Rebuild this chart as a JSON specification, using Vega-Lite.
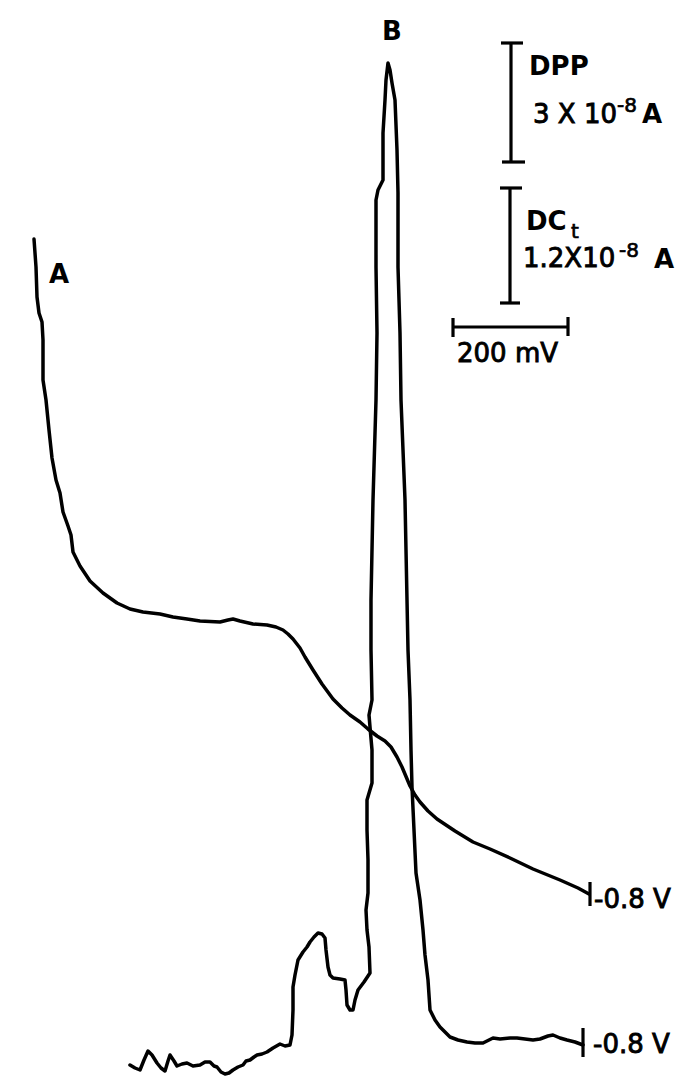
{
  "$schema": "https://vega.github.io/schema/vega-lite/v6.json",
  "width": 699,
  "height": 1086,
  "autosize": {"type": "fit", "contains": "padding"},
  "padding": 0,
  "background": "white",
  "config": {"view": {"stroke": null}},
  "datasets": {
    "curves": [
      {"curve":"A","x":34,"y":239},{"curve":"A","x":36,"y":267},{"curve":"A","x":37,"y":297},{"curve":"A","x":39,"y":313},{"curve":"A","x":42,"y":322},{"curve":"A","x":43,"y":340},{"curve":"A","x":43,"y":380},{"curve":"A","x":46,"y":400},{"curve":"A","x":49,"y":430},{"curve":"A","x":52,"y":458},{"curve":"A","x":56,"y":480},{"curve":"A","x":60,"y":493},{"curve":"A","x":63,"y":512},{"curve":"A","x":68,"y":526},{"curve":"A","x":71,"y":535},{"curve":"A","x":73,"y":552},{"curve":"A","x":80,"y":566},{"curve":"A","x":90,"y":581},{"curve":"A","x":103,"y":593},{"curve":"A","x":117,"y":603},{"curve":"A","x":130,"y":609},{"curve":"A","x":143,"y":612},{"curve":"A","x":160,"y":614},{"curve":"A","x":173,"y":617},{"curve":"A","x":187,"y":619},{"curve":"A","x":200,"y":621},{"curve":"A","x":220,"y":622},{"curve":"A","x":228,"y":620},{"curve":"A","x":233,"y":619},{"curve":"A","x":240,"y":621},{"curve":"A","x":253,"y":624},{"curve":"A","x":267,"y":625},{"curve":"A","x":276,"y":627},{"curve":"A","x":283,"y":630},{"curve":"A","x":288,"y":634},{"curve":"A","x":293,"y":639},{"curve":"A","x":300,"y":648},{"curve":"A","x":305,"y":657},{"curve":"A","x":313,"y":670},{"curve":"A","x":322,"y":684},{"curve":"A","x":333,"y":699},{"curve":"A","x":342,"y":708},{"curve":"A","x":350,"y":715},{"curve":"A","x":360,"y":722},{"curve":"A","x":368,"y":729},{"curve":"A","x":377,"y":736},{"curve":"A","x":385,"y":741},{"curve":"A","x":391,"y":747},{"curve":"A","x":397,"y":757},{"curve":"A","x":402,"y":767},{"curve":"A","x":410,"y":786},{"curve":"A","x":415,"y":795},{"curve":"A","x":420,"y":802},{"curve":"A","x":428,"y":811},{"curve":"A","x":437,"y":819},{"curve":"A","x":455,"y":831},{"curve":"A","x":473,"y":842},{"curve":"A","x":490,"y":849},{"curve":"A","x":510,"y":858},{"curve":"A","x":533,"y":869},{"curve":"A","x":560,"y":880},{"curve":"A","x":578,"y":888},{"curve":"A","x":589,"y":894},
      {"curve":"B","x":130,"y":1065},{"curve":"B","x":135,"y":1068},{"curve":"B","x":140,"y":1070},{"curve":"B","x":144,"y":1060},{"curve":"B","x":148,"y":1051},{"curve":"B","x":152,"y":1055},{"curve":"B","x":157,"y":1063},{"curve":"B","x":161,"y":1068},{"curve":"B","x":165,"y":1071},{"curve":"B","x":168,"y":1061},{"curve":"B","x":170,"y":1055},{"curve":"B","x":174,"y":1061},{"curve":"B","x":177,"y":1066},{"curve":"B","x":182,"y":1064},{"curve":"B","x":187,"y":1063},{"curve":"B","x":193,"y":1066},{"curve":"B","x":200,"y":1065},{"curve":"B","x":205,"y":1062},{"curve":"B","x":210,"y":1062},{"curve":"B","x":214,"y":1066},{"curve":"B","x":217,"y":1067},{"curve":"B","x":221,"y":1072},{"curve":"B","x":225,"y":1074},{"curve":"B","x":229,"y":1073},{"curve":"B","x":233,"y":1070},{"curve":"B","x":238,"y":1067},{"curve":"B","x":243,"y":1065},{"curve":"B","x":246,"y":1061},{"curve":"B","x":250,"y":1060},{"curve":"B","x":254,"y":1057},{"curve":"B","x":257,"y":1055},{"curve":"B","x":262,"y":1054},{"curve":"B","x":267,"y":1052},{"curve":"B","x":273,"y":1048},{"curve":"B","x":280,"y":1044},{"curve":"B","x":285,"y":1046},{"curve":"B","x":290,"y":1045},{"curve":"B","x":292,"y":1035},{"curve":"B","x":293,"y":1010},{"curve":"B","x":293,"y":987},{"curve":"B","x":295,"y":975},{"curve":"B","x":298,"y":960},{"curve":"B","x":303,"y":952},{"curve":"B","x":307,"y":947},{"curve":"B","x":310,"y":942},{"curve":"B","x":314,"y":937},{"curve":"B","x":318,"y":933},{"curve":"B","x":322,"y":934},{"curve":"B","x":325,"y":938},{"curve":"B","x":326,"y":950},{"curve":"B","x":328,"y":967},{"curve":"B","x":330,"y":975},{"curve":"B","x":333,"y":978},{"curve":"B","x":340,"y":979},{"curve":"B","x":345,"y":980},{"curve":"B","x":346,"y":990},{"curve":"B","x":347,"y":1005},{"curve":"B","x":350,"y":1010},{"curve":"B","x":353,"y":1010},{"curve":"B","x":355,"y":1000},{"curve":"B","x":358,"y":990},{"curve":"B","x":364,"y":982},{"curve":"B","x":370,"y":973},{"curve":"B","x":369,"y":947},{"curve":"B","x":367,"y":930},{"curve":"B","x":366,"y":910},{"curve":"B","x":368,"y":893},{"curve":"B","x":368,"y":860},{"curve":"B","x":367,"y":830},{"curve":"B","x":367,"y":800},{"curve":"B","x":372,"y":783},{"curve":"B","x":372,"y":750},{"curve":"B","x":370,"y":727},{"curve":"B","x":369,"y":715},{"curve":"B","x":372,"y":700},{"curve":"B","x":371,"y":650},{"curve":"B","x":371,"y":600},{"curve":"B","x":373,"y":500},{"curve":"B","x":376,"y":400},{"curve":"B","x":377,"y":333},{"curve":"B","x":376,"y":267},{"curve":"B","x":376,"y":200},{"curve":"B","x":378,"y":190},{"curve":"B","x":383,"y":180},{"curve":"B","x":383,"y":133},{"curve":"B","x":385,"y":100},{"curve":"B","x":386,"y":80},{"curve":"B","x":388,"y":63},{"curve":"B","x":390,"y":70},{"curve":"B","x":392,"y":83},{"curve":"B","x":395,"y":100},{"curve":"B","x":397,"y":150},{"curve":"B","x":398,"y":193},{"curve":"B","x":398,"y":267},{"curve":"B","x":400,"y":333},{"curve":"B","x":401,"y":400},{"curve":"B","x":403,"y":450},{"curve":"B","x":405,"y":500},{"curve":"B","x":406,"y":550},{"curve":"B","x":407,"y":600},{"curve":"B","x":408,"y":650},{"curve":"B","x":410,"y":700},{"curve":"B","x":411,"y":750},{"curve":"B","x":412,"y":787},{"curve":"B","x":414,"y":830},{"curve":"B","x":416,"y":873},{"curve":"B","x":420,"y":900},{"curve":"B","x":423,"y":930},{"curve":"B","x":425,"y":955},{"curve":"B","x":428,"y":980},{"curve":"B","x":430,"y":1010},{"curve":"B","x":435,"y":1020},{"curve":"B","x":440,"y":1027},{"curve":"B","x":450,"y":1037},{"curve":"B","x":458,"y":1040},{"curve":"B","x":467,"y":1042},{"curve":"B","x":475,"y":1043},{"curve":"B","x":483,"y":1043},{"curve":"B","x":493,"y":1038},{"curve":"B","x":500,"y":1039},{"curve":"B","x":510,"y":1038},{"curve":"B","x":517,"y":1038},{"curve":"B","x":525,"y":1039},{"curve":"B","x":533,"y":1040},{"curve":"B","x":540,"y":1039},{"curve":"B","x":548,"y":1036},{"curve":"B","x":553,"y":1035},{"curve":"B","x":560,"y":1038},{"curve":"B","x":567,"y":1040},{"curve":"B","x":575,"y":1042},{"curve":"B","x":583,"y":1045}
    ],
    "bars": [
      {"x":511,"y":43,"x2":511,"y2":162},
      {"x":501,"y":43,"x2":523,"y2":43},
      {"x":502,"y":162,"x2":525,"y2":162},
      {"x":510,"y":188,"x2":510,"y2":303},
      {"x":500,"y":188,"x2":522,"y2":188},
      {"x":500,"y":303,"x2":520,"y2":303},
      {"x":453,"y":327,"x2":568,"y2":327},
      {"x":453,"y":318,"x2":453,"y2":337},
      {"x":568,"y":317,"x2":568,"y2":336},
      {"x":590,"y":882,"x2":590,"y2":906},
      {"x":583,"y":1028,"x2":583,"y2":1057}
    ],
    "letters": [
      {"text":"B","x":382,"y":40},
      {"text":"A","x":49,"y":283},
      {"text":"DPP","x":529,"y":75},
      {"text":"A","x":642,"y":123},
      {"text":"DC","x":526,"y":230},
      {"text":"A","x":654,"y":268}
    ],
    "numbers": [
      {"text":"3 X 10","x":533,"y":123},
      {"text":"1.2X10","x":523,"y":267},
      {"text":"200 mV","x":457,"y":362},
      {"text":"-0.8 V","x":594,"y":908},
      {"text":"-0.8 V","x":593,"y":1053}
    ],
    "small": [
      {"text":"-8","x":617,"y":112},
      {"text":"-8","x":619,"y":257},
      {"text":"t","x":571,"y":238}
    ]
  },
  "encoding": {
    "x": {"field":"x","type":"quantitative","scale":{"domain":[0,699],"nice":false,"zero":false},"axis":null},
    "y": {"field":"y","type":"quantitative","scale":{"domain":[0,1086],"nice":false,"zero":false,"reverse":true},"axis":null}
  },
  "layer": [
    {
      "data": {"name":"curves"},
      "mark": {"type":"line","color":"#000","strokeWidth":3.5,"strokeJoin":"round","strokeCap":"round","clip":false},
      "encoding": {"detail":{"field":"curve","type":"nominal"},"order":{"value":null}}
    },
    {
      "data": {"name":"bars"},
      "mark": {"type":"rule","color":"#000","strokeWidth":3.2,"strokeCap":"butt"},
      "encoding": {"x2":{"field":"x2"},"y2":{"field":"y2"}}
    },
    {
      "data": {"name":"letters"},
      "mark": {"type":"text","font":"DejaVu Sans","fontSize":26,"fontWeight":"bold","align":"left","baseline":"alphabetic","color":"#000"},
      "encoding": {"text":{"field":"text","type":"nominal"}}
    },
    {
      "data": {"name":"numbers"},
      "mark": {"type":"text","font":"DejaVu Sans","fontSize":26,"fontWeight":"normal","align":"left","baseline":"alphabetic","color":"#000","stroke":"#000","strokeWidth":0.9},
      "encoding": {"text":{"field":"text","type":"nominal"}}
    },
    {
      "data": {"name":"small"},
      "mark": {"type":"text","font":"DejaVu Sans","fontSize":20,"fontWeight":"normal","align":"left","baseline":"alphabetic","color":"#000","stroke":"#000","strokeWidth":0.7},
      "encoding": {"text":{"field":"text","type":"nominal"}}
    }
  ]
}
